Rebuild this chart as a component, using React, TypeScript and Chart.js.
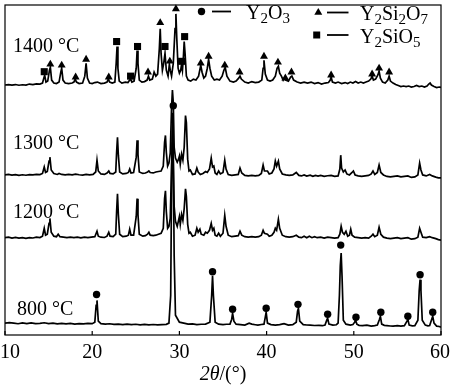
import React, { useEffect, useRef } from 'react';
import { Chart, registerables } from 'chart.js';

Chart.register(...registerables);

// ---------- data (2θ in degrees, intensity in arbitrary stacked units) ----------
const X_TICKS = [10, 20, 30, 40, 50, 60];
const TEMP_LABELS = ['1400 °C', '1300 °C', '1200 °C', '800 °C'];
const TEMP_LABEL_AT: [number, number][] = [[10.91, 286.5], [10.91, 188.5], [10.91, 118], [11.37, 20]];
const PHASES = ['Y2O3', 'Y2Si2O7', 'Y2SiO5'];

const T1400: [number, number][] = [
  [10.0,253],[10.4,253.5],[10.8,253],[11.2,253.5],[11.6,252.8],[12.0,253.3],[12.4,253],[12.8,254],[13.2,253.4],[13.6,254.2],[14.0,254],
  [14.3,255],[14.45,260],[14.55,263],[14.7,256],[14.9,257],[15.1,268],[15.2,271],[15.35,258],[15.6,255],[15.9,254.5],[16.2,256],
  [16.4,266],[16.5,270],[16.65,258],[16.9,255],[17.3,254.5],[17.7,255],[17.9,256],[18.05,259],[18.2,256],[18.5,254.5],[18.9,255],
  [19.15,262],[19.3,275],[19.45,260],[19.7,255],[20.0,254.5],[20.3,255.5],[20.6,256],[21.0,254.5],[21.4,255],[21.7,256],[21.85,259],
  [22.0,256],[22.3,255],[22.6,256],[22.75,275],[22.85,292],[22.95,270],[23.1,257],[23.4,255],[23.8,256],[24.1,255.5],[24.3,258],
  [24.4,259],[24.55,256],[24.8,257],[25.05,270],[25.15,288],[25.25,275],[25.4,258],[25.7,256],[26.0,256.5],[26.3,258],[26.45,262],
  [26.6,258],[26.9,259],[27.1,266],[27.3,262],[27.5,264],[27.7,290],[27.8,310],[27.9,285],[28.05,268],[28.2,275],[28.35,285],
  [28.5,268],[28.7,262],[28.85,274],[28.95,268],[29.1,262],[29.3,275],[29.5,310],[29.6,325],[29.7,300],[29.85,270],[30.0,265],
  [30.15,268],[30.25,274],[30.35,268],[30.45,280],[30.55,297],[30.65,285],[30.8,262],[31.0,258],[31.3,257],[31.6,259],[31.9,258],
  [32.2,262],[32.45,273],[32.6,266],[32.8,260],[33.0,262],[33.2,270],[33.35,279],[33.5,270],[33.7,262],[34.0,258],[34.3,259],
  [34.6,258],[34.9,262],[35.1,268],[35.25,271],[35.45,262],[35.8,257],[36.2,256],[36.5,257],[36.8,260],[36.95,262],[37.1,259],
  [37.5,256],[37.9,255],[38.3,256.5],[38.7,255.5],[39.1,256],[39.45,258],[39.6,270],[39.7,278],[39.85,264],[40.1,258],[40.4,257],
  [40.7,258],[41.0,262],[41.2,270],[41.35,272],[41.5,265],[41.7,262],[41.9,258],[42.1,261],[42.2,258],[42.5,257],[42.75,261],
  [42.9,262],[43.1,258],[43.5,256],[43.9,255],[44.3,256],[44.7,255],[45.1,256],[45.5,254.5],[45.9,255.5],[46.3,254],[46.7,255],
  [47.1,255.5],[47.3,258],[47.4,261],[47.55,256],[47.9,255],[48.2,256],[48.6,254.5],[49.0,255.5],[49.3,254.5],[49.6,256],[49.9,255],
  [50.2,256.5],[50.5,255],[50.8,256],[51.1,255],[51.4,256],[51.7,257],[51.95,259],[52.1,262],[52.25,258],[52.5,259],[52.75,263],
  [52.9,267],[53.05,260],[53.3,256],[53.6,255],[53.9,258],[54.05,262],[54.2,257],[54.5,255],[54.8,253.5],[55.1,252.5],[55.4,251.5],
  [55.7,252],[56.0,251.5],[56.3,252],[56.6,251],[56.9,251.5],[57.2,252.5],[57.5,251.5],[57.8,252],[58.1,251],[58.4,252],[58.6,254],
  [58.75,255],[58.9,253],[59.2,251.5],[59.5,250.5],[59.8,251],[60.0,250.5],
];

const T1300: [number, number][] = [
  [10.0,162],[10.4,162.5],[10.8,161.8],[11.2,162.3],[11.6,161.6],[12.0,162.2],[12.4,161.7],[12.8,162.4],[13.2,162],[13.6,162.6],
  [14.0,162.3],[14.3,163.5],[14.5,170],[14.65,164.5],[14.85,165.5],[15.05,176],[15.15,180],[15.3,167],[15.6,163.5],[16.0,162.5],
  [16.2,163.5],[16.5,162.5],[16.9,162],[17.3,162.6],[17.7,162],[18.1,162.8],[18.5,162.2],[18.9,161.8],[19.3,162.6],[19.7,162],
  [20.1,162.5],[20.4,165],[20.55,177],[20.7,166],[21.0,163],[21.4,162.5],[21.7,164],[21.9,166],[22.05,163.5],[22.4,163],[22.7,165],
  [22.8,185],[22.9,200],[23.0,182],[23.15,165],[23.5,163],[23.9,163.5],[24.15,164.5],[24.3,168],[24.45,164],[24.75,164.5],[25.05,180],
  [25.15,197],[25.25,183],[25.4,165],[25.8,163.5],[26.1,164],[26.35,165],[26.5,166],[26.65,164.5],[27.0,164],[27.3,165],[27.6,165.5],
  [27.9,166],[28.15,171],[28.3,195],[28.4,202],[28.5,185],[28.65,171],[28.8,174],[28.95,184],[29.1,230],[29.2,248],[29.3,235],
  [29.4,190],[29.55,179],[29.75,175],[29.9,178],[30.0,181],[30.1,173],[30.25,183],[30.4,177],[30.55,190],[30.7,222],[30.8,215],
  [30.95,178],[31.1,166],[31.25,167],[31.5,162.5],[31.8,163],[32.0,169],[32.15,165],[32.4,162.5],[32.7,163.5],[33.0,165.5],
  [33.2,164.5],[33.45,168],[33.65,179],[33.8,170],[33.95,171],[34.1,164],[34.3,162.5],[34.5,166],[34.7,163],[35.0,164.5],[35.2,177],
  [35.35,168],[35.6,162.5],[36.0,161.5],[36.4,162],[36.75,162.5],[36.95,169],[37.15,164],[37.5,161.5],[37.9,161],[38.3,161.5],
  [38.7,161],[39.1,161.5],[39.4,163.5],[39.6,172],[39.75,166],[40.1,166],[40.3,163],[40.6,164],[40.85,168],[41.0,176],[41.15,171],
  [41.35,176],[41.5,168],[41.8,163],[42.2,162],[42.6,161.5],[43.0,162],[43.4,164.5],[43.7,161.5],[44.0,161],[44.3,162],[44.6,160.8],
  [45.0,161.8],[45.3,160.6],[45.6,161.6],[45.9,160.8],[46.2,161.5],[46.6,160.5],[47.0,161.2],[47.4,161.6],[47.8,160.5],[48.2,161],
  [48.4,168],[48.5,182],[48.6,169],[48.8,165],[49.0,167],[49.2,163],[49.5,162],[49.8,164.5],[49.95,166],[50.15,162],[50.5,161],
  [50.9,160.5],[51.3,161],[51.7,161.5],[52.0,163],[52.2,166],[52.4,162.5],[52.7,164.5],[52.9,172],[53.1,164.5],[53.4,162],
  [53.8,160.5],[54.2,160],[54.6,160.5],[55.0,161],[55.4,160],[55.8,160.5],[56.2,161],[56.6,159.5],[57.0,160],[57.35,162],[57.55,174],
  [57.7,167],[57.9,162],[58.3,161],[58.7,162.5],[59.0,161],[59.4,159.8],[59.7,159],[60.0,159],
];

const T1200: [number, number][] = [
  [10.0,98.5],[10.4,99],[10.8,98],[11.2,98.7],[11.6,98],[12.0,98.5],[12.4,97.8],[12.8,98.6],[13.2,98.2],[13.6,99],[14.0,98.6],
  [14.3,100],[14.5,108],[14.65,101],[14.85,102],[15.05,113],[15.15,118],[15.3,104],[15.6,100],[15.9,99.5],[16.1,102],[16.3,99.5],
  [16.7,99],[17.1,98.5],[17.5,99],[17.9,98.5],[18.3,99],[18.7,98.3],[19.1,99],[19.5,98.5],[19.9,99],[20.3,99.5],[20.55,105],
  [20.7,100],[21.0,99],[21.4,98.7],[21.7,100],[21.9,104],[22.05,100],[22.4,99.5],[22.7,102],[22.8,125],[22.9,143],[23.0,122],
  [23.15,102],[23.5,99.5],[23.9,100],[24.15,101],[24.3,107],[24.45,101],[24.75,101],[25.05,120],[25.15,138],[25.25,122],[25.4,102],
  [25.8,100],[26.1,100.5],[26.35,102],[26.5,104],[26.65,101],[27.0,100.5],[27.3,101],[27.6,102],[27.9,103],[28.15,108],[28.3,138],
  [28.4,146],[28.5,125],[28.65,108],[28.8,110],[28.95,118],[29.1,170],[29.2,195],[29.3,175],[29.4,130],[29.55,115],[29.75,110],
  [29.9,116],[30.0,120],[30.1,112],[30.25,122],[30.4,116],[30.55,128],[30.7,148],[30.8,140],[30.95,112],[31.1,103],[31.25,104],
  [31.5,100],[31.8,101],[32.0,108],[32.15,104],[32.35,107],[32.5,102],[32.8,101],[33.0,104],[33.2,103],[33.45,106],[33.65,113],
  [33.8,106],[33.95,108],[34.1,101],[34.3,100],[34.5,103],[34.7,100],[35.0,103],[35.2,121],[35.35,110],[35.6,101],[36.0,99.5],
  [36.4,100],[36.75,100.5],[36.95,105],[37.15,101],[37.5,99.5],[37.9,99],[38.3,99.5],[38.7,99],[39.1,99.5],[39.4,101],[39.6,106],
  [39.75,103],[40.1,102],[40.3,100],[40.6,101],[40.85,104],[41.0,108],[41.15,106],[41.35,117],[41.5,108],[41.8,101],[42.2,99.5],
  [42.6,99],[43.0,99.5],[43.4,101],[43.7,99],[44.0,98.5],[44.3,100],[44.6,98.5],[44.9,100],[45.2,98.5],[45.5,99.5],[45.8,98.5],
  [46.2,99],[46.6,98],[47.0,99],[47.4,98.5],[47.8,98],[48.2,98.5],[48.4,102],[48.55,110],[48.7,104],[48.9,102],[49.1,105],[49.3,100],
  [49.5,101],[49.65,107],[49.8,101],[50.1,99],[50.5,98.5],[50.9,98],[51.3,98.5],[51.7,98],[52.0,100],[52.2,102],[52.4,99.5],
  [52.7,101],[52.9,109],[53.1,102],[53.4,99],[53.8,98],[54.2,97.5],[54.6,98],[55.0,98.5],[55.4,97.5],[55.8,98],[56.2,98.5],[56.6,97],
  [57.0,97.5],[57.35,99],[57.55,108],[57.7,104],[57.9,99],[58.3,98.5],[58.7,99.5],[59.0,98.5],[59.4,97.5],[59.7,96.5],[60.0,96],
];

const T800: [number, number][] = [
  [10.0,12],[10.5,12.6],[11.0,12],[11.5,11.4],[12.0,12.2],[12.5,11.5],[13.0,12.3],[13.5,11.6],[14.0,11.8],[14.5,12.4],[15.0,11.6],
  [15.5,12],[16.0,11.2],[16.5,11.8],[17.0,11.2],[17.5,11.7],[18.0,11],[18.5,11.6],[19.0,11.2],[19.5,11.7],[20.0,11.5],
  [20.3,13],[20.45,30],[20.55,35],[20.7,14],[21.0,11.5],[21.5,11],[22.0,11.4],[22.5,10.7],[23.0,11],[23.5,10.5],[24.0,11],[24.5,10.6],
  [25.0,10.9],[25.5,10.3],[26.0,10.7],[26.5,10.2],[27.0,10.6],[27.5,10.2],[28.0,10.5],[28.5,10.8],[28.8,12],[29.0,40],[29.15,200],
  [29.25,225],[29.4,80],[29.55,20],[30.0,13],[30.5,12],[31.0,11],[31.5,11.2],[32.0,10.5],[32.5,10.9],[33.0,11],
  [33.5,13],[33.7,40],[33.8,60],[33.9,40],[34.1,13],[34.5,11],[35.0,10.5],[35.4,10.9],[35.8,11],[36.0,16],[36.1,22],[36.25,14],[36.5,11],
  [37.0,10.5],[37.5,10],[38.0,12],[38.3,11],[38.7,10.4],[39.0,10],[39.4,10.6],[39.7,11],[39.85,18],[39.95,23],[40.1,12],[40.5,10.5],
  [41.0,10],[41.5,10.5],[42.0,11.5],[42.5,10],[43.0,10.5],[43.4,13],[43.55,24],[43.65,27],[43.8,14],[44.2,10.5],[44.6,10.1],[45.0,10],
  [45.5,9.6],[46.0,9.8],[46.4,9.4],[46.7,10],[46.9,15],[47.0,17],[47.15,11],[47.6,10],[48.0,10.4],[48.2,12],[48.35,40],[48.45,70],
  [48.55,83],[48.65,60],[48.8,15],[49.1,11],[49.6,10],[49.9,10.6],[50.1,13],[50.2,15],[50.35,11],[50.6,9.8],[51.0,9.5],[51.5,9.9],
  [52.0,9],[52.4,9.5],[52.7,10],[52.95,16],[53.05,19],[53.2,11],[53.5,9.8],[53.8,9.5],[54.2,9.1],[54.5,9],[55.0,9.4],[55.4,8.9],
  [55.8,9.5],[56.1,14],[56.2,16],[56.35,10],[56.7,9.2],[57.0,9.5],[57.35,15],[57.5,45],[57.6,56],[57.7,45],[57.85,15],[58.2,10],
  [58.5,9.2],[58.7,9.5],[58.9,15],[59.05,19],[59.2,12],[59.5,9],[59.8,8.6],[60.0,8],
];

// phase markers above peaks [2θ, intensity]
const Y2O3_MARKS: [number, number][] = [
  [20.5,41],[29.3,232],[33.8,64],[36.1,26],[39.95,27],[43.6,31],[47.0,21],[48.5,91],[50.25,18],[53.1,23],[56.2,19],[57.6,61],[59.05,23],
];
const Y2SI2O7_MARKS: [number, number][] = [
  [15.2,274],[16.5,273],[18.1,261],[19.3,279],[21.9,261],[26.4,266],[27.8,316],[28.9,277],[29.6,330],[32.45,275],[33.35,282],
  [35.2,273],[36.9,266],[39.7,282],[41.3,276],[42.15,260],[42.85,266],[47.4,263],[52.1,264],[52.9,270],[54.05,266],
];
const Y2SIO5_MARKS: [number, number][] = [
  [14.5,266.5],[22.8,297],[24.4,262],[25.2,292],[28.35,292],[30.25,277],[30.6,302],
];

const TRACES = [T1400, T1300, T1200, T800];

// ---------- drawing helpers ----------
const SERIF = '"Liberation Serif", "Times New Roman", serif';

function drawFormula(ctx: CanvasRenderingContext2D, s: string, x: number, base: number) {
  let cx = x;
  for (const ch of s) {
    const sub = /[0-9]/.test(ch);
    ctx.font = sub ? `15px ${SERIF}` : `20px ${SERIF}`;
    ctx.fillText(ch, cx, sub ? base + 4 : base);
    cx += ctx.measureText(ch).width;
  }
}

function drawMarker(ctx: CanvasRenderingContext2D, kind: string, x: number, y: number) {
  ctx.beginPath();
  if (kind === 'circle') {
    ctx.arc(x, y, 3.7, 0, Math.PI * 2);
  } else if (kind === 'triangle') {
    const r = 4.6;
    ctx.moveTo(x, y - r);
    ctx.lineTo(x + r * Math.sin((2 * Math.PI) / 3), y - r * Math.cos((2 * Math.PI) / 3));
    ctx.lineTo(x + r * Math.sin((4 * Math.PI) / 3), y - r * Math.cos((4 * Math.PI) / 3));
    ctx.closePath();
  } else {
    ctx.rect(x - 3.5, y - 3.5, 7, 7);
  }
  ctx.fill();
}

const overlayPlugin = {
  id: 'xrdOverlay',
  afterDatasetsDraw(chart: any) {
    const { ctx, chartArea: a, scales } = chart;
    const xs = scales.x;
    const ys = scales.y;
    ctx.save();
    ctx.strokeStyle = '#000';
    ctx.fillStyle = '#000';
    // frame
    ctx.lineWidth = 1.2;
    ctx.strokeRect(a.left, a.top, a.right - a.left, a.bottom - a.top);
    // inward ticks
    ctx.beginPath();
    X_TICKS.forEach((v) => {
      const px = xs.getPixelForValue(v);
      ctx.moveTo(px, a.bottom);
      ctx.lineTo(px, a.bottom - 4);
    });
    ctx.stroke();
    // tick labels
    ctx.font = `20px ${SERIF}`;
    ctx.textAlign = 'center';
    ctx.textBaseline = 'alphabetic';
    X_TICKS.forEach((v) => {
      const label = String(v);
      const w = ctx.measureText(label).width;
      let cx = xs.getPixelForValue(v);
      cx = Math.max(w / 2, Math.min(chart.width - w / 2, cx));
      ctx.fillText(label, cx, a.bottom + 23);
    });
    // axis title: 2θ/(°)
    ctx.textAlign = 'left';
    const parts: [string, boolean][] = [['2θ', true], ['/(°)', false]];
    let total = 0;
    parts.forEach(([t, it]) => {
      ctx.font = `${it ? 'italic ' : ''}20px ${SERIF}`;
      total += ctx.measureText(t).width;
    });
    let tx = (a.left + a.right) / 2 - total / 2;
    parts.forEach(([t, it]) => {
      ctx.font = `${it ? 'italic ' : ''}20px ${SERIF}`;
      ctx.fillText(t, tx, a.bottom + 45);
      tx += ctx.measureText(t).width;
    });
    // temperature labels
    ctx.font = `20px ${SERIF}`;
    TEMP_LABELS.forEach((t, i) => {
      const [lx, ly] = TEMP_LABEL_AT[i];
      ctx.fillText(t, xs.getPixelForValue(lx), ys.getPixelForValue(ly));
    });
    // legend
    const legend: [string, string, number, number, number, number][] = [
      // marker, name, markerX, rowY, lineX1, textX
      ['circle', PHASES[0], 201.5, 11.5, 212, 246],
      ['triangle', PHASES[1], 318.3, 12.5, 327, 360],
      ['rect', PHASES[2], 316.7, 35, 327, 360],
    ];
    legend.forEach(([kind, name, mx, ry, lx1, txt]) => {
      drawMarker(ctx, kind, mx, ry);
      ctx.lineWidth = 1.8;
      ctx.beginPath();
      ctx.moveTo(lx1, ry);
      ctx.lineTo(lx1 + (kind === 'circle' ? 19 : 21.5), ry);
      ctx.stroke();
      drawFormula(ctx, name, txt, ry + 7.5);
    });
    ctx.restore();
  },
};

export default function App() {
  const canvasRef = useRef<HTMLCanvasElement | null>(null);

  useEffect(() => {
    document.body.style.margin = '0';
    const canvas = canvasRef.current;
    if (!canvas) return;
    const traceSets = TRACES.map((t) => ({
      data: t.map(([x, y]) => ({ x, y })),
      showLine: true,
      borderColor: '#000',
      borderWidth: 1.7,
      pointRadius: 0,
      tension: 0,
      fill: false,
    }));
    const markSet = (pts: [number, number][], style: string, r: number) => ({
      data: pts.map(([x, y]) => ({ x, y })),
      showLine: false,
      pointStyle: style,
      pointRadius: r,
      pointBackgroundColor: '#000',
      pointBorderColor: '#000',
      pointBorderWidth: 0,
      clip: false as any,
    });
    const chart = new Chart(canvas, {
      type: 'scatter',
      data: {
        datasets: [
          ...traceSets,
          markSet(Y2O3_MARKS, 'circle', 3.7),
          markSet(Y2SI2O7_MARKS, 'triangle', 4.6),
          markSet(Y2SIO5_MARKS, 'rect', 5),
        ] as any,
      },
      options: {
        responsive: false,
        animation: false,
        devicePixelRatio: 1,
        layout: { padding: { left: 3, right: 9, top: 1, bottom: 52 } },
        plugins: { legend: { display: false }, tooltip: { enabled: false } },
        events: [],
        scales: {
          x: { type: 'linear', min: 10, max: 60, display: false },
          y: { type: 'linear', min: 0, max: 334, display: false },
        },
      },
      plugins: [overlayPlugin],
    });
    return () => chart.destroy();
  }, []);

  return (
    <div style={{ width: 450, height: 387 }}>
      <canvas ref={canvasRef} width={450} height={387} style={{ display: 'block' }} />
    </div>
  );
}
